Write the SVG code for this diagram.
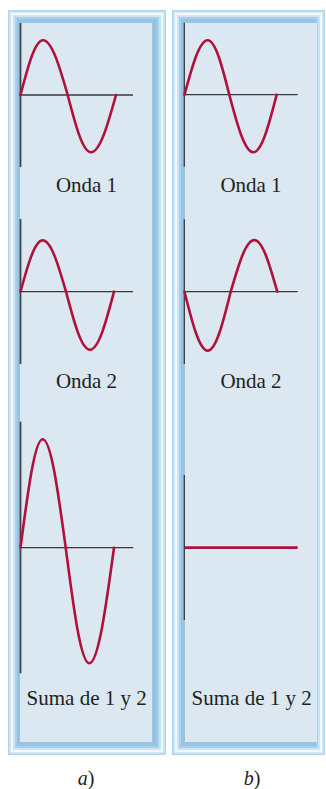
<svg xmlns="http://www.w3.org/2000/svg" width="326" height="789" viewBox="0 0 326 789">
<style>
.f0{fill:#b3d5eb}.f1{fill:#d4e7f4}.f2{fill:#f3f8fc}.f3{fill:#cfe4f2}.f4{fill:#a9d0e8}.f5{fill:#96c4e2}.in{fill:#dbe7f1}
.ax{stroke:#3a3a3a;stroke-width:1.3;fill:none}
.vax{stroke:#454545;stroke-width:1.8;fill:none}
.wave{stroke:#b0103a;stroke-width:2.6;fill:none;stroke-linecap:round}
.lbl{font-family:"Liberation Serif","Times New Roman",serif;font-size:21px;fill:#231f20;text-anchor:middle}
.cap{font-family:"Liberation Serif","Times New Roman",serif;font-size:20px;fill:#231f20;text-anchor:middle}
</style>
<rect width="326" height="789" fill="#ffffff"/>
<g id="panel-a">
<rect class="f0" x="8" y="10" width="158" height="745"/>
<rect class="f1" x="9.5" y="11.5" width="155" height="742"/>
<rect class="f2" x="11" y="13" width="152" height="739"/>
<rect class="f3" x="13" y="15" width="148" height="735"/>
<rect class="f4" x="15" y="17" width="144" height="731"/>
<rect class="f5" x="17" y="19" width="140" height="727"/>
<rect class="in" x="20" y="23" width="132" height="719"/>
</g>
<g id="panel-b">
<rect class="f0" x="172" y="10" width="153" height="745"/>
<rect class="f1" x="173.5" y="11.5" width="150" height="742"/>
<rect class="f2" x="175" y="13" width="147" height="739"/>
<rect class="f3" x="177" y="15" width="143" height="735"/>
<rect class="f4" x="179" y="17" width="139" height="731"/>
<rect class="f5" x="181" y="19" width="135" height="727"/>
<rect class="in" x="185" y="23" width="132" height="719"/>
</g>
<g id="a-onda1">
<line class="vax" x1="20.5" y1="23" x2="20.5" y2="167"/>
<line class="ax" x1="20.5" y1="95" x2="133" y2="95"/>
<path class="wave" d="M20.5,95 C27.84,66.98 34.86,40.3 43,40.3 C51.94,40.3 59.65,66.98 67.7,95 C75.3,124.35 82.57,152.3 91,152.3 C100.05,152.3 107.85,124.35 116,95"/>
<text class="lbl" x="86.5" y="192">Onda 1</text>
</g>
<g id="a-onda2">
<line class="vax" x1="20.5" y1="219" x2="20.5" y2="364"/>
<line class="ax" x1="20.5" y1="291.7" x2="133" y2="291.7"/>
<path class="wave" d="M20.5,291.7 C27.74,265.37 34.67,240.3 42.7,240.3 C51.13,240.3 58.4,265.37 66,291.7 C73.83,321.41 81.31,349.7 90,349.7 C98.69,349.7 106.17,321.41 114,291.7"/>
<text class="lbl" x="86.5" y="388">Onda 2</text>
</g>
<g id="a-suma">
<line class="vax" x1="20.5" y1="421.7" x2="20.5" y2="673.3"/>
<line class="ax" x1="20.5" y1="547.7" x2="133.3" y2="547.7"/>
<path class="wave" d="M20.5,547.7 C27.74,492.17 34.67,439.3 42.7,439.3 C51.02,439.3 58.2,492.17 65.7,547.7 C73.4,606.92 80.76,663.3 89.3,663.3 C98.24,663.3 105.95,606.92 114,547.7"/>
<text class="lbl" x="86.7" y="705">Suma de 1 y 2</text>
</g>
<g id="b-onda1">
<line class="ax" x1="184.3" y1="22.7" x2="184.3" y2="166.7"/>
<line class="ax" x1="184.3" y1="94.7" x2="297.7" y2="94.7"/>
<path class="wave" d="M184.5,94.7 C192.07,66.83 199.3,40.3 207.7,40.3 C215.52,40.3 222.26,66.83 229.3,94.7 C237.13,124.21 244.61,152.3 253.3,152.3 C261.77,152.3 269.07,124.21 276.7,94.7"/>
<text class="lbl" x="251" y="192">Onda 1</text>
</g>
<g id="b-onda2">
<line class="ax" x1="184.3" y1="219.3" x2="184.3" y2="364"/>
<line class="ax" x1="184.3" y1="291.7" x2="297.7" y2="291.7"/>
<path class="wave" d="M184.5,291.7 C192.07,321.93 199.3,350.7 207.7,350.7 C216.02,350.7 223.2,321.93 230.7,291.7 C238.4,265.21 245.76,240 254.3,240 C262.62,240 269.8,265.21 277.3,291.7"/>
<text class="lbl" x="251" y="388">Onda 2</text>
</g>
<g id="b-suma">
<line class="ax" x1="184.3" y1="475" x2="184.3" y2="620"/>
<line class="wave" x1="185" y1="547.7" x2="297.7" y2="547.7" style="stroke-linecap:butt;stroke-width:2.8"/>
<text class="lbl" x="251.7" y="705">Suma de 1 y 2</text>
</g>
<g id="captions">
<text class="cap" x="86" y="785"><tspan font-style="italic">a</tspan>)</text>
<text class="cap" x="252" y="785"><tspan font-style="italic">b</tspan>)</text>
</g>
</svg>
